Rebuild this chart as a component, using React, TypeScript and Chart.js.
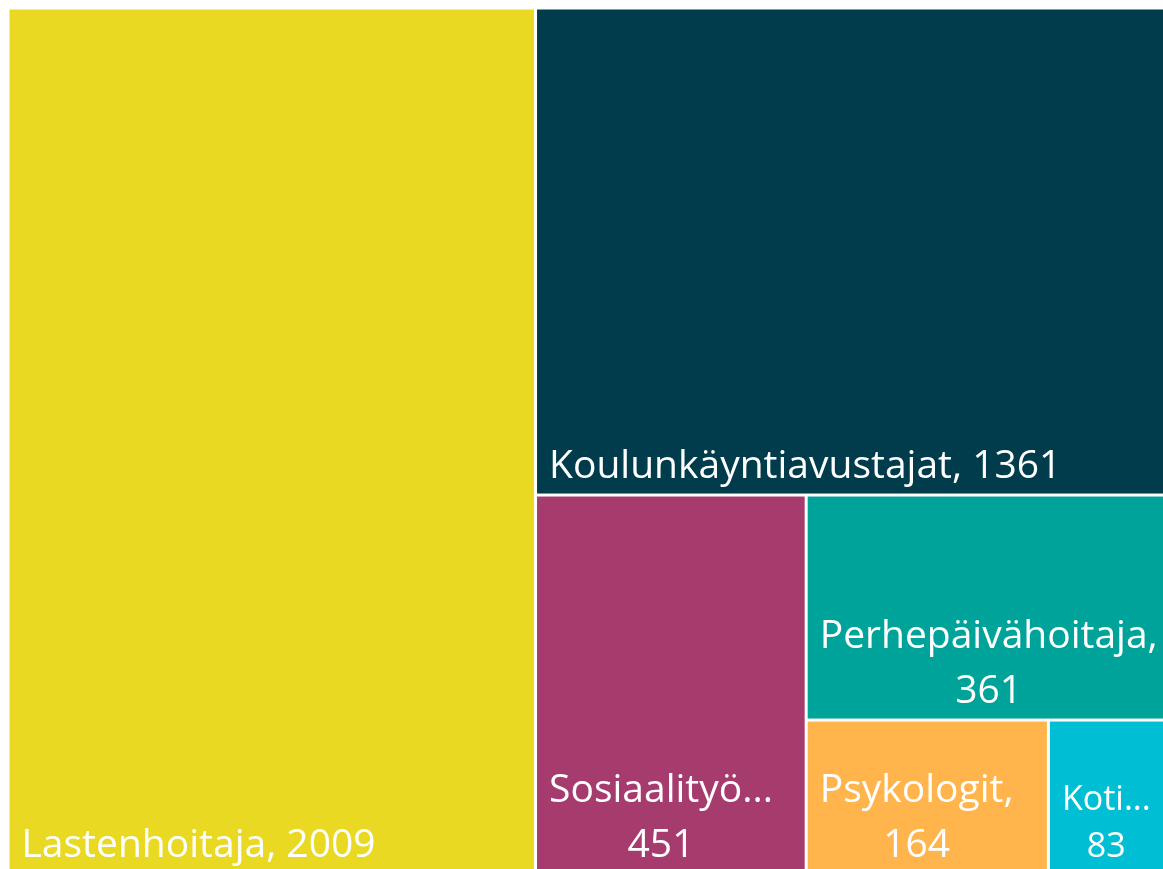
import React, { useEffect, useRef } from "react";
import { Chart, registerables } from "chart.js";

Chart.register(...registerables);

const categories = [
  "Lastenhoitaja",
  "Koulunkäyntiavustajat",
  "Sosiaalityöntekijät",
  "Perhepäivähoitaja",
  "Psykologit",
  "Kotipalvelutyöntekijät",
];
const values = [2009, 1361, 451, 361, 164, 83];
const colors = ["#E9D923", "#013C4C", "#A63C6E", "#00A39A", "#FFB54B", "#00BFD5"];

type Cell = { x: number; y: number; w: number; h: number; i: number };

function worst(row: number[], side: number): number {
  const s = row.reduce((a, b) => a + b, 0);
  const mx = Math.max(...row);
  const mn = Math.min(...row);
  return Math.max((side * side * mx) / (s * s), (s * s) / (side * side * mn));
}

function squarify(vals: number[], W: number, H: number): Cell[] {
  const total = vals.reduce((a, b) => a + b, 0);
  const areas = vals.map((v) => (v / total) * W * H);
  const out: Cell[] = [];
  let x = 0, y = 0, w = W, h = H;
  let i = 0;
  while (i < areas.length) {
    const side = Math.min(w, h);
    let row = [areas[i]];
    let j = i + 1;
    while (j < areas.length) {
      const nr = [...row, areas[j]];
      if (worst(nr, side) <= worst(row, side)) {
        row = nr;
        j++;
      } else break;
    }
    const s = row.reduce((a, b) => a + b, 0);
    if (w >= h) {
      const cw = s / h;
      let cy = y;
      row.forEach((a, k) => {
        const rh = a / cw;
        out.push({ x, y: cy, w: cw, h: rh, i: i + k });
        cy += rh;
      });
      x += cw;
      w -= cw;
    } else {
      const rh = s / w;
      let cx = x;
      row.forEach((a, k) => {
        const rw = a / rh;
        out.push({ x: cx, y, w: rw, h: rh, i: i + k });
        cx += rw;
      });
      y += rh;
      h -= rh;
    }
    i = j;
  }
  return out;
}

const FONT_FAMILY = "'Segoe UI', 'Open Sans', sans-serif";

function fitLines(ctx: CanvasRenderingContext2D, name: string, value: number, maxW: number): string[] {
  const full = `${name}, ${value}`;
  if (ctx.measureText(full).width <= maxW) return [full];
  const first = `${name},`;
  if (ctx.measureText(first).width <= maxW) return [first, `${value}`];
  let n = name.length;
  while (n > 1 && ctx.measureText(name.slice(0, n) + "...").width > maxW) n--;
  return [name.slice(0, n) + "...", `${value}`];
}

const treemapPlugin = {
  id: "treemapCells",
  afterDatasetsDraw(chart: any) {
    const { ctx, chartArea, scales } = chart;
    const xs = scales.x;
    const ys = scales.y;
    const ar = chartArea.width / chartArea.height;
    const cells = squarify(values, ar, 1);
    const gap = 1.5;
    ctx.save();
    cells.forEach((c) => {
      const px0 = xs.getPixelForValue(c.x / ar) + gap;
      const px1 = xs.getPixelForValue((c.x + c.w) / ar) - gap;
      const py0 = ys.getPixelForValue(c.y) + gap;
      const py1 = ys.getPixelForValue(c.y + c.h) - gap;
      ctx.fillStyle = colors[c.i];
      ctx.fillRect(px0, py0, px1 - px0, py1 - py0);
    });
    cells.forEach((c) => {
      const px0 = xs.getPixelForValue(c.x / ar) + gap;
      const px1 = xs.getPixelForValue((c.x + c.w) / ar) - gap;
      const py1 = ys.getPixelForValue(c.y + c.h) - gap;
      const cw = px1 - px0;
      const small = cw < 160;
      const size = small ? 34 : 39;
      const lineH = small ? 47 : 55;
      ctx.font = `${size}px ${FONT_FAMILY}`;
      const pad = 12;
      const lines = fitLines(ctx, categories[c.i], values[c.i], cw - 20.5);
      const bw = Math.max(...lines.map((l) => ctx.measureText(l).width));
      const cx = px0 + pad + bw / 2;
      ctx.fillStyle = "#FFFFFF";
      ctx.textAlign = "center";
      ctx.textBaseline = "alphabetic";
      lines.forEach((l, k) => {
        const by = py1 - 16 - (lines.length - 1 - k) * lineH;
        ctx.fillText(l, cx, by);
      });
    });
    ctx.restore();
  },
};

export default function App() {
  const ref = useRef<HTMLCanvasElement | null>(null);
  useEffect(() => {
    if (!ref.current) return;
    const chart = new Chart(ref.current, {
      type: "scatter",
      data: { datasets: [{ data: [] }] },
      options: {
        responsive: false,
        animation: false,
        layout: { padding: 0 },
        plugins: { legend: { display: false }, tooltip: { enabled: false } },
        scales: {
          x: { type: "linear", min: 0, max: 1, display: false },
          y: { type: "linear", min: 0, max: 1, reverse: true, display: false },
        },
      },
      plugins: [treemapPlugin],
    });
    return () => chart.destroy();
  }, []);
  return (
    <div style={{ position: "fixed", left: 8, top: 8, width: 1163, height: 866 }}>
      <canvas ref={ref} width={1163} height={866} style={{ width: 1163, height: 866 }} />
    </div>
  );
}
